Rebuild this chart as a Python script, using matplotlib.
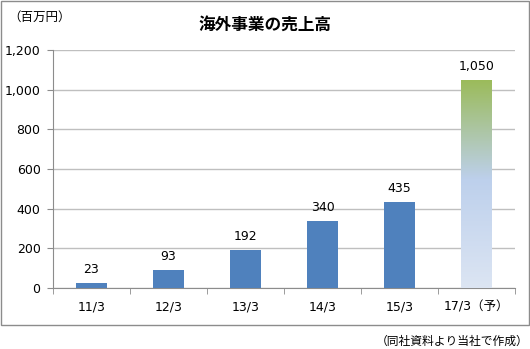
import matplotlib
matplotlib.use("Agg")
import matplotlib.pyplot as plt
import numpy as np
from matplotlib.colors import LinearSegmentedColormap
from matplotlib.patches import Rectangle

plt.rcParams['font.family'] = ['Noto Sans CJK JP', 'DejaVu Sans']

categories = ["11/3", "12/3", "13/3", "14/3", "15/3", "17/3（予）"]
sales = [23, 93, 192, 340, 435, 1050]
yticks = [0, 200, 400, 600, 800, 1000, 1200]

W, H = 530, 349
fig = plt.figure(figsize=(W / 100, H / 100), dpi=100)
# 外枠
fig.patches.append(Rectangle((0.5 / W, 1 - 325 / H), 528 / W, 324.5 / H,
                             transform=fig.transFigure, fill=False,
                             edgecolor="#8c8c8c", lw=1))

ax = fig.add_axes([53 / W, 1 - 288 / H, (515 - 53) / W, (288 - 50) / H])
x = np.arange(len(categories))
bw = 0.39

# 実績
ax.bar(x[:-1], sales[:-1], width=bw, color="#4F81BD", zorder=3)
# 予想（グラデーション）
cmap = LinearSegmentedColormap.from_list(
    "g", [(0, "#DCE5F3"), (0.52, "#BDD0EC"), (1.0, "#9BBB59")])
grad = np.linspace(0, 1, 256).reshape(-1, 1)
bar = ax.bar(x[-1], sales[-1], width=bw, color="none", zorder=3)[0]
im = ax.imshow(grad, cmap=cmap, origin="lower", aspect="auto", zorder=3,
               extent=(x[-1] - bw / 2, x[-1] + bw / 2, 0, sales[-1]))
im.set_clip_path(bar)

for xi, v in zip(x, sales):
    ax.text(xi, v + 35, f"{v:,}", ha="center", va="bottom", fontsize=9,
            family=['DejaVu Sans'])

ax.set_xlim(-0.5, len(categories) - 0.5)
ax.set_ylim(0, 1200)
ax.set_yticks(yticks)
ax.set_yticklabels([f"{t:,}" for t in yticks], fontsize=9,
                   family=['DejaVu Sans'])
ax.set_xticks(x)
ax.set_xticklabels(categories, fontsize=9, family=['DejaVu Sans', 'Noto Sans CJK JP'])
ax.set_xticks(np.arange(len(categories) + 1) - 0.5, minor=True)
ax.tick_params(axis="x", which="major", length=0, pad=9)
ax.tick_params(axis="x", which="minor", length=4, color="#8c8c8c")
ax.tick_params(axis="y", length=4, color="#8c8c8c", pad=5)
ax.grid(axis="y", color="#bfbfbf", lw=1, zorder=0)
ax.set_axisbelow(True)
for s in ["top", "right"]:
    ax.spines[s].set_visible(False)
ax.spines["left"].set_color("#8c8c8c")
ax.spines["bottom"].set_color("#8c8c8c")

fig.text(8 / W, 1 - 17 / H, "（百万円）", fontsize=9, va="center")
fig.text(265 / W, 1 - 25 / H, "海外事業の売上高", fontsize=12,
         fontweight="bold", ha="center", va="center")
fig.text(528 / W, 1 - 341 / H, "（同社資料より当社で作成）", fontsize=8.5,
         ha="right", va="center")

fig.savefig("out.png", dpi=100)
